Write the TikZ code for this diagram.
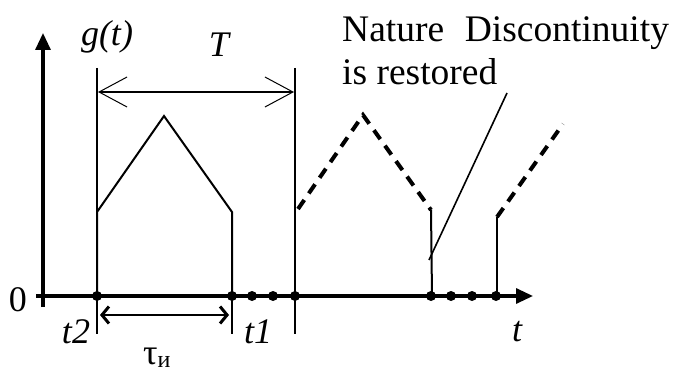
\documentclass[tikz,border=0pt]{standalone}
\usepackage{fontspec}
\setmainfont{Liberation Serif}
\newfontfamily\tnr{Liberation Serif}
\usetikzlibrary{arrows.meta}
\begin{document}
\begin{tikzpicture}[x=1pt,y=-1pt,
  lbl/.style={inner sep=0pt,font=\tnr\fontsize{36}{43}\selectfont},
  txt/.style={inner sep=0pt,anchor=base west,font=\tnr\fontsize{37.5}{43}\selectfont},
  axis/.style={line width=3.2pt,-{Triangle[length=17pt,width=15pt]}},
  vline/.style={line width=2pt},
  pulse/.style={line width=2pt},
  dpulse/.style={line width=4pt,dash pattern=on 11pt off 8pt},
  dot/.style={circle,fill=black,inner sep=0pt,minimum size=10pt},
  Tarrow/.style={line width=2.5pt,{Straight Barb[length=28pt,width=30pt,line width=1pt]}-{Straight Barb[length=28pt,width=30pt,line width=1pt]}},
  tauarrow/.style={line width=2.8pt,{Straight Barb[length=7pt,width=17pt,line width=3pt]}-{Straight Barb[length=7pt,width=17pt,line width=3pt]}}
]
\useasboundingbox (0,0) rectangle (677,374);
% axes
\coordinate (ybot) at (43,307);
\coordinate (ytop) at (43,33);
\coordinate (xl) at (36,296);
\coordinate (xr) at (533,296);
\draw[axis] (ybot) -- (ytop);
\draw[axis] (xl) -- (xr);
% vertical markers
\coordinate (v1t) at (97,68);  \coordinate (v1b) at (97,334);
\coordinate (v2t) at (295,68); \coordinate (v2b) at (295,334);
\coordinate (v3t) at (232,296); \coordinate (v3b) at (232,334);
\draw[vline] (v1t) -- (v1b);
\draw[vline] (v2t) -- (v2b);
\draw[vline] (v3t) -- (v3b);
% T dimension
\coordinate (Ta) at (98,92); \coordinate (Tb) at (294,92);
\draw[Tarrow] (Ta) -- (Tb);
% tau dimension
\coordinate (ta) at (100,315); \coordinate (tb) at (229,315);
\draw[tauarrow] (ta) -- (tb);
% pulse 1
\coordinate (p1a) at (97,296); \coordinate (p1b) at (97,212);
\coordinate (p1c) at (164,116); \coordinate (p1d) at (232,212);
\coordinate (p1e) at (232,296);
\draw[pulse,line join=miter] (p1a) -- (p1b) -- (p1c) -- (p1d) -- (p1e);
% pulse 2 (dashed)
\coordinate (p2a) at (298,209); \coordinate (p2b) at (363,115);
\coordinate (p2c) at (431,210); \coordinate (p2d) at (432,296);
\draw[dpulse] (p2a) -- (p2b) -- (p2c);
\draw[pulse] (p2c) -- (p2d);
% pulse 3 (dashed)
\coordinate (p3a) at (497,217); \coordinate (p3b) at (563,124);
\coordinate (p3c) at (497,296);
\draw[dpulse] (p3a) -- (p3b);
\draw[pulse] (p3a) -- (p3c);
% dots
\foreach \n/\x in {d1/97,d2/232,d3/252,d4/273,d5/295,d6/431,d7/451,d8/472,d9/496}
  \node[dot] (\n) at (\x,296) {};
% labels
\node[lbl] (zero) at (18,300) {0};
\node[lbl] (gt) at (107,37) {\itshape g(t)};
\node[lbl] (T) at (219,45) {\itshape T};
\node[lbl] (t2) at (76,332) {\itshape t2};
\node[lbl] (t1) at (258,332) {\itshape t1};
\node[lbl] (t) at (517,332) {\itshape t};
\node[lbl,anchor=base] (tau) at (157,364) {τ\textsubscript{\fontsize{24}{26}\selectfont и}};
\node[txt] (nat) at (342,42) {Nature\hspace{0.55em}Discontinuity};
\node[txt] (res) at (342,85) {is restored};
% pointer
\coordinate (ptop) at (507,93);
\coordinate (pbot) at (429,260);
\draw[line width=1.6pt] (ptop) -- (pbot);
\end{tikzpicture}
\end{document}
